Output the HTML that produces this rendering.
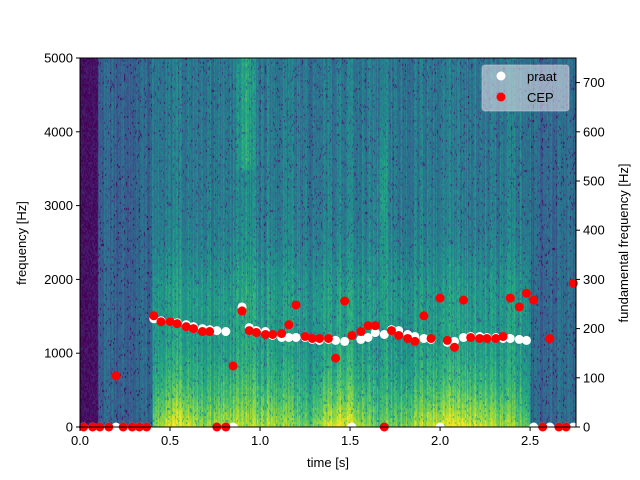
<!DOCTYPE html>
<html><head><meta charset="utf-8"><style>
body{margin:0;background:#fff;width:640px;height:480px;overflow:hidden;font-family:"Liberation Sans","DejaVu Sans",sans-serif;}
#wrap{position:relative;width:640px;height:480px;}
canvas{position:absolute;left:80px;top:58px;}
svg{position:absolute;left:0;top:0;}
</style></head><body>
<div id="wrap">
<canvas id="spec" width="496" height="369"></canvas>
<svg id="svg" width="640" height="480"></svg>
</div>
<script>
// data
const praatT = [0.02,0.07,0.11,0.16,0.2,0.24,0.29,0.33,0.37,0.41,0.45,0.5,0.54,0.59,0.63,0.68,0.72,0.76,0.81,0.85,0.9,0.94,0.98,1.03,1.07,1.12,1.16,1.2,1.25,1.29,1.33,1.38,1.42,1.47,1.51,1.56,1.6,1.64,1.69,1.73,1.77,1.82,1.86,1.91,1.95,2.0,2.04,2.08,2.13,2.17,2.22,2.26,2.31,2.35,2.39,2.44,2.48,2.52,2.57,2.61,2.66,2.7,2.74];
const praatF = [0,0,0,0,0,0,0,0,0,220,216,214,212,208,204,200,198,196,194,0,244,202,196,194,186,182,182,182,182,178,176,178,176,174,0,178,182,192,188,198,196,188,184,180,178,0,172,174,182,184,184,182,182,180,180,178,176,0,0,0,0,0,0];
const cepT = [0.02,0.07,0.11,0.16,0.2,0.24,0.29,0.33,0.37,0.41,0.45,0.5,0.54,0.59,0.63,0.68,0.72,0.76,0.81,0.85,0.9,0.94,0.98,1.03,1.07,1.12,1.16,1.2,1.25,1.29,1.33,1.38,1.42,1.47,1.51,1.56,1.6,1.64,1.69,1.73,1.77,1.82,1.86,1.91,1.95,2.0,2.04,2.08,2.13,2.17,2.22,2.26,2.31,2.35,2.39,2.44,2.48,2.52,2.57,2.61,2.66,2.7,2.74];
const cepF = [0,0,0,0,104,0,0,0,0,226,214,214,210,204,200,194,194,0,0,124,236,196,192,188,188,190,208,248,184,180,180,180,140,256,186,194,206,206,0,196,186,180,174,226,180,262,176,162,258,182,180,180,180,184,262,244,272,258,0,180,0,0,292];
const fTicks = [0,1000,2000,3000,4000,5000];
const f0Ticks = [0,100,200,300,400,500,600,700];
const tTicks = [0.0,0.5,1.0,1.5,2.0,2.5];

const L=80,R=576,T=58,B=427;
const xS=t=>L+t*(R-L)/2.755;
const yF=f=>B-f*(B-T)/5000;
const yP=f=>B-f*(B-T)/750;

// spectrogram background (texture)
(function(){
 const c=document.getElementById('spec').getContext('2d');
 let s=12345;const rnd=()=>{s=(s*1103515245+12345)%2147483648;return s/2147483648;};
 const vir=[[68,1,84],[72,40,120],[62,74,137],[49,104,142],[38,130,142],[31,158,137],[53,183,121],[109,205,89],[180,222,44],[253,231,37]];
 const col=v=>{v=Math.max(0,Math.min(0.999,v))*9;const i=Math.floor(v),f=v-i;const a=vir[i],b=vir[i+1];return `rgb(${a.map((q,k)=>Math.round(q+(b[k]-q)*f)).join(',')})`;};
 const g=(x,m,w)=>Math.exp(-((x-m)*(x-m))/(2*w*w));
 for(let x=0;x<496;x++){
  const t=x/180;
  let colBase=0.40+(rnd()-0.5)*0.2;
  if(t<0.1) colBase=0.04;
  else if(t<0.4) colBase=0.33+(rnd()-0.5)*0.16;
  const voiced=(t>0.4&&t<2.5)?1:0;
  const low=Math.max(g(t,0.55,0.12),g(t,1.45,0.12),g(t,2.1,0.25),g(t,1.05,0.15)*0.7,g(t,0.8,0.15)*0.7);
  for(let y=0;y<369;y+=2){
   const f=5000*(1-y/369);
   let v=colBase+(rnd()-0.5)*0.12;
   if(t>=0.1){
    v+=voiced*(0.22*Math.exp(-f/900)+0.08*Math.exp(-f/2000));
    v+=voiced*low*0.3*Math.exp(-f/700);
    v+=0.07*g(f,1800,400)*voiced;
    v+=0.2*g(t,0.92,0.03)*(f>3500?1:0.3);
    v+=0.12*g(t,1.68,0.02)*g(f,3200,600);
    if(t>2.5) v-=0.06;
    if(rnd()<0.05) v-=0.25;
   }
   c.fillStyle=col(v);c.fillRect(x,y,1,2);
  }
 }
})();

const svg=document.getElementById('svg');const NS='http://www.w3.org/2000/svg';
function el(tag,attrs,parent){const e=document.createElementNS(NS,tag);for(const k in attrs)e.setAttribute(k,attrs[k]);(parent||svg).appendChild(e);return e;}
function txt(x,y,s,anchor,extra){const e=el('text',Object.assign({x:x,y:y,'font-size':'13','text-anchor':anchor||'middle',fill:'#000'},extra||{}));e.textContent=s;return e;}

// points
const gp=el('g',{});


praatT.forEach((t,i)=>{const c=el('circle',{cx:xS(t),cy:yP(praatF[i]),r:4.5,fill:'#fff'},gp);

});
const gc=el('g',{});


cepT.forEach((t,i)=>{const c=el('circle',{cx:xS(t),cy:yP(cepF[i]),r:4.5,fill:'#f00'},gc);

});

// frame
el('rect',{x:L,y:T,width:R-L,height:B-T,fill:'none',stroke:'#000','stroke-width':1});
// ticks
fTicks.forEach(f=>{const y=yF(f);el('line',{x1:L-4,x2:L,y1:y,y2:y,stroke:'#000'});const e=txt(L-7,y+4.5,String(f),'end');
});
f0Ticks.forEach(f=>{const y=yP(f);el('line',{x1:R,x2:R+4,y1:y,y2:y,stroke:'#000'});const e=txt(R+7,y+4.5,String(f),'start');
});
tTicks.forEach(t=>{const x=xS(t);el('line',{x1:x,x2:x,y1:B,y2:B+4,stroke:'#000'});const e=txt(x,B+18,t.toFixed(1));
});
let a=txt(328,467,'time [s]');
a=txt(0,0,'frequency [Hz]','middle',{transform:'translate(26,243) rotate(-90)'});
a=txt(0,0,'fundamental frequency [Hz]','middle',{transform:'translate(628,243) rotate(-90)'});

// legend
const lg=el('g',{});


el('rect',{x:482,y:65,width:87,height:46,rx:3,fill:'rgba(220,220,230,0.6)',stroke:'rgba(200,200,210,0.6)'},lg);
el('circle',{cx:501,cy:76,r:4.5,fill:'#fff'},lg);
el('circle',{cx:501,cy:97,r:4.5,fill:'#f00'},lg);
let t1=txt(527,81,'praat','start');lg.appendChild(t1);

let t2=txt(527,102,'CEP','start');lg.appendChild(t2);

</script>
</body></html>
